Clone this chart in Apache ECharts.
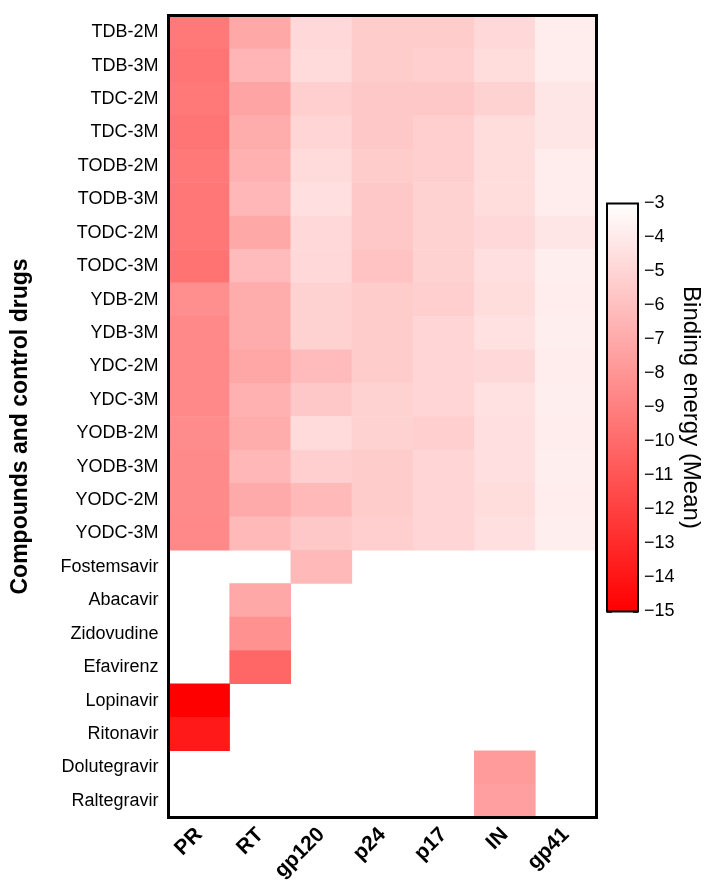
<!DOCTYPE html>
<html>
<head>
<meta charset="utf-8">
<script src="https://cdn.jsdelivr.net/npm/echarts@6/dist/echarts.min.js"></script>
<style>
html,body{margin:0;padding:0;background:#fff;}
#c{width:705px;height:884px;}
</style>
</head>
<body>
<div id="c"></div>
<script>
const compounds = ['TDB-2M','TDB-3M','TDC-2M','TDC-3M','TODB-2M','TODB-3M','TODC-2M','TODC-3M',
  'YDB-2M','YDB-3M','YDC-2M','YDC-3M','YODB-2M','YODB-3M','YODC-2M','YODC-3M',
  'Fostemsavir','Abacavir','Zidovudine','Efavirenz','Lopinavir','Ritonavir','Dolutegravir','Raltegravir'];
const targets = ['PR','RT','gp120','p24','p17','IN','gp41'];

const PR    = [-9.3,-9.5,-9.3,-9.5,-9.3,-9.4,-9.4,-9.6,-8.3,-8.6,-8.6,-8.6,-8.4,-8.5,-8.5,-8.6, null,null,null,null,-15,-13.8,null,null];
const RT    = [-7.1,-6.5,-7.3,-6.9,-6.7,-6.4,-7.1,-6.2,-6.9,-6.9,-7.2,-6.7,-6.9,-6.4,-7.0,-6.3, null,-7.1,-8.2,-10.2,null,null,null,null];
const gp120 = [-4.8,-4.7,-5.3,-5.0,-4.7,-4.5,-4.8,-4.8,-5.1,-5.1,-6.2,-5.6,-4.7,-5.3,-6.3,-5.6, -6.3,null,null,null,null,null,null,null];
const p24   = [-5.4,-5.4,-5.6,-5.6,-5.4,-5.6,-5.6,-5.8,-5.4,-5.4,-5.4,-5.1,-5.1,-5.4,-5.4,-5.3, null,null,null,null,null,null,null,null];
const p17   = [-5.4,-5.3,-5.6,-5.3,-5.3,-5.1,-5.1,-5.1,-5.3,-5.0,-5.0,-5.0,-5.3,-5.0,-5.0,-5.0, null,null,null,null,null,null,null,null];
const IN    = [-4.8,-4.6,-5.1,-4.6,-4.6,-4.6,-4.8,-4.5,-4.6,-4.4,-4.8,-4.4,-4.5,-4.5,-4.6,-4.5, null,null,null,null,null,null,-7.7,-7.5];
const gp41  = [-3.9,-3.9,-4.2,-4.2,-3.9,-3.9,-4.2,-3.8,-3.9,-3.8,-3.9,-3.8,-3.9,-3.8,-3.9,-3.8, null,null,null,null,null,null,null,null];

const scaleMin = -15, scaleMax = -3;

const columns = [PR, RT, gp120, p24, p17, IN, gp41];
const heatData = [];
columns.forEach((col, i) => {
  col.forEach((v, j) => { if (v !== null) heatData.push([i, j, v]); });
});

const FONT = '"Liberation Sans", Arial, sans-serif';
const minusFmt = v => String(v).replace('-', '\u2212');

const chart = echarts.init(document.getElementById('c'), null, {renderer: 'canvas'});
chart.setOption({
  animation: false,
  backgroundColor: '#fff',
  grid: [
    {left: 168.5, top: 15.5, width: 428, height: 802, show: true, borderColor: '#000', borderWidth: 3,
     backgroundColor: 'transparent', z: 5, containLabel: false, outerBoundsMode: 'none'},
    {left: 607, top: 203.5, width: 31, height: 408, show: true, borderColor: '#000', borderWidth: 2,
     backgroundColor: 'transparent', z: 5, containLabel: false, outerBoundsMode: 'none'}
  ],
  xAxis: [
    {type: 'category', gridIndex: 0, data: targets, position: 'bottom',
     axisLine: {show: false}, axisTick: {show: false}, splitLine: {show: false},
     axisLabel: {rotate: 45, margin: 14, color: '#000', fontSize: 21, fontWeight: 'bold', fontFamily: FONT, interval: 0}},
    {type: 'category', gridIndex: 1, data: ['cb'], show: false}
  ],
  yAxis: [
    {type: 'category', gridIndex: 0, data: compounds, inverse: true,
     axisLine: {show: false}, axisTick: {show: false}, splitLine: {show: false},
     axisLabel: {margin: 10, color: '#000', fontSize: 18, fontFamily: FONT, interval: 0},
     name: 'Compounds and control drugs', nameLocation: 'middle', nameRotate: 90, nameGap: 136,
     nameTextStyle: {color: '#000', fontSize: 23, fontWeight: 'bold', fontFamily: FONT, padding: [0, 20, 0, 0]}},
    {type: 'value', gridIndex: 1, min: scaleMin, max: scaleMax, interval: 1, position: 'right',
     axisLine: {show: false}, splitLine: {show: false},
     axisTick: {show: true, inside: true, length: 5, lineStyle: {color: '#000', width: 1.5}},
     axisLabel: {margin: 6, color: '#000', fontSize: 18, fontFamily: FONT, formatter: minusFmt},
     name: 'Binding energy (Mean)', nameLocation: 'middle', nameRotate: -90, nameGap: 38,
     nameTextStyle: {color: '#000', fontSize: 24, fontFamily: FONT}},
    {type: 'value', gridIndex: 1, min: scaleMin, max: scaleMax, interval: 1, position: 'left',
     axisLine: {show: false}, splitLine: {show: false}, axisLabel: {show: false},
     axisTick: {show: true, inside: true, length: 5, lineStyle: {color: '#000', width: 1.5}}}
  ],
  visualMap: {
    show: false, type: 'continuous', min: scaleMin, max: scaleMax, seriesIndex: 0,
    inRange: {color: ['#ff0000', '#ffffff']}
  },
  series: [
    {type: 'heatmap', xAxisIndex: 0, yAxisIndex: 0, data: heatData, z: 1,
     itemStyle: {borderWidth: 0}, emphasis: {disabled: true}, label: {show: false}},
    {type: 'custom', xAxisIndex: 1, yAxisIndex: 1, z: 1, data: [[0, scaleMax, scaleMin]],
     renderItem: function (params, api) {
       const top = api.coord([api.value(0), api.value(1)]);
       const bot = api.coord([api.value(0), api.value(2)]);
       const w = api.size([1, 0])[0];
       return {
         type: 'rect',
         shape: {x: top[0] - w / 2, y: top[1], width: w, height: bot[1] - top[1]},
         style: {fill: new echarts.graphic.LinearGradient(0, 0, 0, 1, [
           {offset: 0, color: '#ffffff'}, {offset: 1, color: '#ff0000'}])}
       };
     }}
  ]
});
</script>
</body>
</html>
